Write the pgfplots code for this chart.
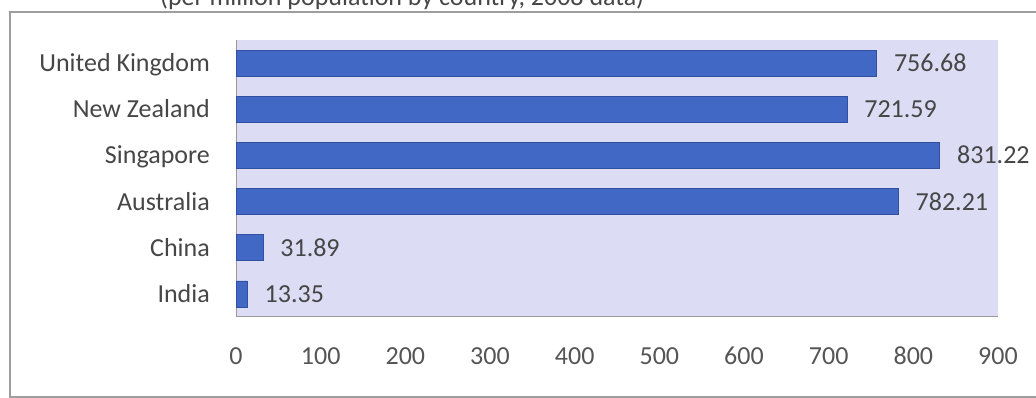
\documentclass[border=0pt]{standalone}
\usepackage{fontspec}
\setmainfont{Carlito}
\usepackage{pgfplots}
\pgfplotsset{compat=1.18}
\definecolor{bgcol}{RGB}{220,221,245}
\definecolor{barcol}{RGB}{66,104,198}
\definecolor{baredge}{RGB}{50,80,160}
\definecolor{txt}{RGB}{70,70,70}
\definecolor{ticktxt}{RGB}{85,85,85}
\begin{document}
\begin{tikzpicture}
\path[use as bounding box] (0,0) rectangle (1036pt,398pt);
\clip (0,0) rectangle (1036pt,398pt);
\draw[color=black!38, line width=1.5pt] (10pt,1pt) rectangle (1060pt,386pt);
\node[anchor=base west, inner sep=0, text=txt, font=\fontsize{26}{30}\selectfont] at (160pt,392pt) {(per million population by country, 2008 data)};
\begin{axis}[
  at={(236pt,81pt)}, anchor=south west,
  scale only axis, width=762pt, height=277pt,
  xbar, bar width=26pt,
  xmin=0, xmax=900, ymin=-0.5, ymax=5.5,
  xtick={0,100,...,900},
  ytick={0,1,2,3,4,5},
  yticklabels={India,China,Australia,Singapore,New Zealand,United Kingdom},
  axis lines*=left,
  axis line style={draw=black!40, line width=1pt},
  axis background/.style={fill=bgcol},
  major tick length=0pt,
  tick style={draw=none},
  /pgf/number format/assume math mode=true,
  xticklabel style={anchor=base, inner sep=0, yshift=-48pt, font=\fontsize{26}{30}\selectfont, text=ticktxt},
  yticklabel style={anchor=base east, inner sep=0, xshift=-26pt, yshift=-8.5pt, font=\fontsize{26}{30}\selectfont, text=txt},
  nodes near coords,
  nodes near coords style={anchor=base west, inner sep=0, xshift=17pt, yshift=-8.5pt, font=\fontsize{26}{30}\selectfont, text=txt, /pgf/number format/.cd, fixed, fixed zerofill, precision=2, assume math mode=true},
]
\addplot[fill=barcol, draw=baredge, line width=0.8pt] coordinates {
  (13.35,0) (31.89,1) (782.21,2) (831.22,3) (721.59,4) (756.68,5)
};
\end{axis}
\end{tikzpicture}
\end{document}
